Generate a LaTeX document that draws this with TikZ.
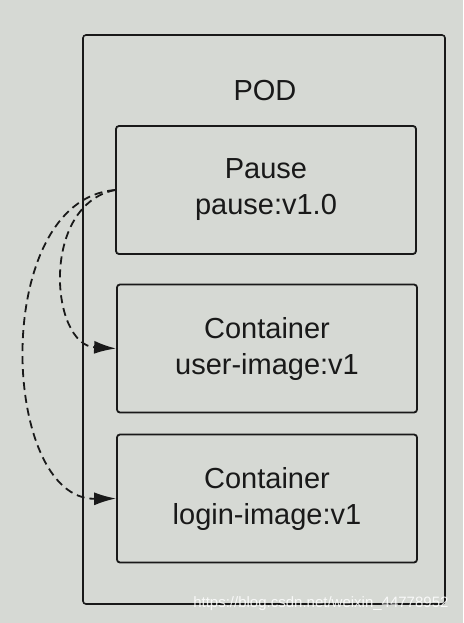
\documentclass[tikz,border=0pt]{standalone}
\usepackage{fontspec}
\setmainfont{Liberation Sans}
\usepackage{xcolor}
\usetikzlibrary{arrows.meta}
\definecolor{paper}{RGB}{214,217,212}
\definecolor{ink}{RGB}{25,25,25}

\begin{document}
\begin{tikzpicture}[x=1pt,y=-1pt,
box/.style={draw=ink,line width=1.8pt,rounded corners=3pt,minimum width=300pt,minimum height=128pt,inner sep=0pt,align=center,text=ink,font=\fontsize{29}{36}\selectfont},
link/.style={draw=ink,line width=1.8pt,dash pattern=on 8pt off 5pt,-{Latex[length=22pt,width=13pt]}}]
\fill[paper](0,0)rectangle(463,623);
\useasboundingbox(0,0)rectangle(463,623);
\node[draw=ink,line width=1.6pt,rounded corners=3pt,minimum width=362pt,minimum height=569pt,inner sep=0pt](pod)at(264,319.5){};
\node[text=ink,font=\fontsize{29}{36}\selectfont](title)at(265,91){POD};
\node[box](pause)at(266,190){Pause\\pause:v1.0};
\node[box](user)at(267,348.5){Container\\user-image:v1};
\node[box](login)at(267,498.5){Container\\login-image:v1};
\draw[link](pause.west)..controls(40,205)and(50,345)..(user.west);
\draw[link](pause.west)..controls(-10,200)and(0,500)..(login.west);
\node[text=white,opacity=0.85,anchor=east,font=\fontsize{15}{15}\selectfont](mark)at(452,604){https://blog.csdn.net/weixin\_44778952};
\end{tikzpicture}
\end{document}
